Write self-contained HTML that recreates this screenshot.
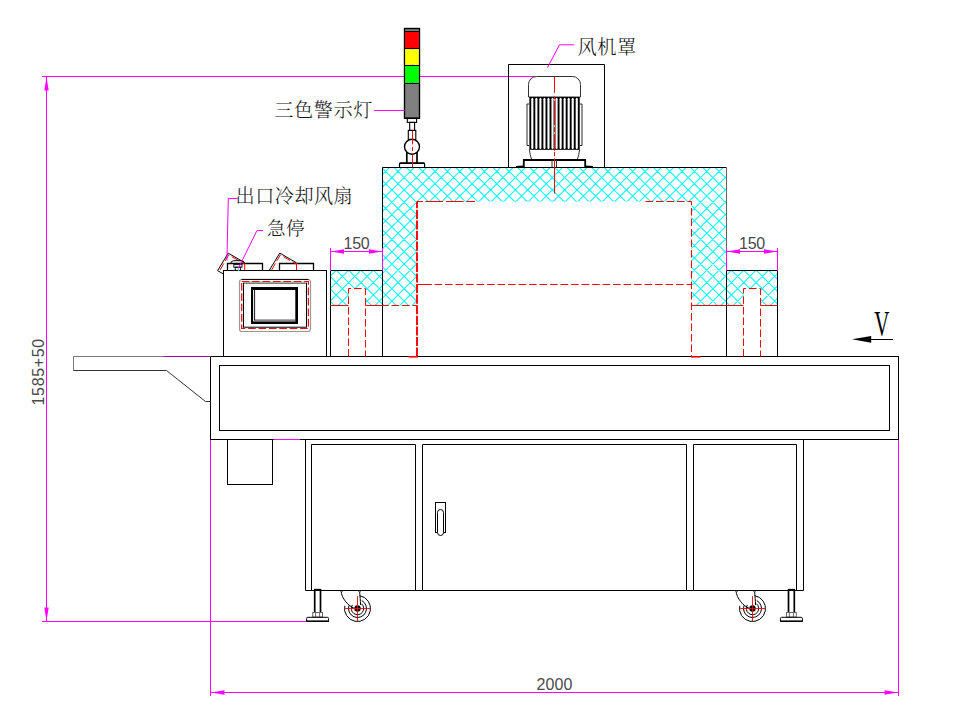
<!DOCTYPE html>
<html lang="zh"><head><meta charset="utf-8"><title>设备外形图</title>
<style>html,body{margin:0;padding:0;background:#fff;}body{width:954px;height:718px;overflow:hidden;}svg{display:block;}</style>
</head><body>
<svg width="954" height="718" viewBox="0 0 954 718" fill="none">
<defs><clipPath id="hc">
<polygon points="382.5,167.5 726.5,167.5 726.5,305.5 691.5,305.5 691.5,201.5 416.5,201.5 416.5,305.5 382.5,305.5"/>
<polygon points="330.5,270.5 382.5,270.5 382.5,305.5 365.5,305.5 365.5,288.5 348.5,288.5 348.5,305.5 330.5,305.5"/>
<polygon points="726.5,270.5 777.5,270.5 777.5,305.5 760.5,305.5 760.5,288.5 743.5,288.5 743.5,305.5 726.5,305.5"/>
</clipPath></defs>
<g clip-path="url(#hc)" stroke="#00ffff" stroke-width="1.04" fill="none">
<path d="M176.65 160L326.65 310M189.00 160L339.00 310M201.35 160L351.35 310M213.70 160L363.70 310M226.05 160L376.05 310M238.40 160L388.40 310M250.75 160L400.75 310M263.10 160L413.10 310M275.45 160L425.45 310M287.80 160L437.80 310M300.15 160L450.15 310M312.50 160L462.50 310M324.85 160L474.85 310M337.20 160L487.20 310M349.55 160L499.55 310M361.90 160L511.90 310M374.25 160L524.25 310M386.60 160L536.60 310M398.95 160L548.95 310M411.30 160L561.30 310M423.65 160L573.65 310M436.00 160L586.00 310M448.35 160L598.35 310M460.70 160L610.70 310M473.05 160L623.05 310M485.40 160L635.40 310M497.75 160L647.75 310M510.10 160L660.10 310M522.45 160L672.45 310M534.80 160L684.80 310M547.15 160L697.15 310M559.50 160L709.50 310M571.85 160L721.85 310M584.20 160L734.20 310M596.55 160L746.55 310M608.90 160L758.90 310M621.25 160L771.25 310M633.60 160L783.60 310M645.95 160L795.95 310M658.30 160L808.30 310M670.65 160L820.65 310M683.00 160L833.00 310M695.35 160L845.35 310M707.70 160L857.70 310M720.05 160L870.05 310M732.40 160L882.40 310M744.75 160L894.75 310M757.10 160L907.10 310M769.45 160L919.45 310M781.80 160L931.80 310M335.30 160L185.30 310M347.65 160L197.65 310M360.00 160L210.00 310M372.35 160L222.35 310M384.70 160L234.70 310M397.05 160L247.05 310M409.40 160L259.40 310M421.75 160L271.75 310M434.10 160L284.10 310M446.45 160L296.45 310M458.80 160L308.80 310M471.15 160L321.15 310M483.50 160L333.50 310M495.85 160L345.85 310M508.20 160L358.20 310M520.55 160L370.55 310M532.90 160L382.90 310M545.25 160L395.25 310M557.60 160L407.60 310M569.95 160L419.95 310M582.30 160L432.30 310M594.65 160L444.65 310M607.00 160L457.00 310M619.35 160L469.35 310M631.70 160L481.70 310M644.05 160L494.05 310M656.40 160L506.40 310M668.75 160L518.75 310M681.10 160L531.10 310M693.45 160L543.45 310M705.80 160L555.80 310M718.15 160L568.15 310M730.50 160L580.50 310M742.85 160L592.85 310M755.20 160L605.20 310M767.55 160L617.55 310M779.90 160L629.90 310M792.25 160L642.25 310M804.60 160L654.60 310M816.95 160L666.95 310M829.30 160L679.30 310M841.65 160L691.65 310M854.00 160L704.00 310M866.35 160L716.35 310M878.70 160L728.70 310M891.05 160L741.05 310M903.40 160L753.40 310M915.75 160L765.75 310M928.10 160L778.10 310"/>
</g>
<line x1="42" y1="76.5" x2="535.5" y2="76.5" stroke="#ff00ff" stroke-width="1" />
<line x1="46.5" y1="76.5" x2="46.5" y2="621.5" stroke="#ff00ff" stroke-width="1" />
<line x1="42" y1="621.5" x2="307" y2="621.5" stroke="#ff00ff" stroke-width="1" />
<polygon points="46.5,77 44.3,90.5 48.7,90.5" fill="#ff00ff"/>
<polygon points="46.5,621 44.3,607.5 48.7,607.5" fill="#ff00ff"/>
<line x1="210.5" y1="439.5" x2="210.5" y2="696" stroke="#ff00ff" stroke-width="1" />
<line x1="898.5" y1="439.5" x2="898.5" y2="696" stroke="#ff00ff" stroke-width="1" />
<line x1="210.5" y1="692.5" x2="898.5" y2="692.5" stroke="#ff00ff" stroke-width="1" />
<polygon points="211,692.5 224.5,690.3 224.5,694.7" fill="#ff00ff"/>
<polygon points="898,692.5 884.5,690.3 884.5,694.7" fill="#ff00ff"/>
<rect x="210.5" y="356.5" width="688.0" height="83.0" stroke="#000" stroke-width="1" fill="none" />
<rect x="219.5" y="365.5" width="670.0" height="65.0" stroke="#000" stroke-width="1" fill="none" />
<line x1="273.5" y1="439.5" x2="300" y2="439.5" stroke="#ff00ff" stroke-width="1" />
<path d="M210.5 356.5H73.5V370.5" stroke="#777" stroke-width="1" fill="none" />
<path d="M73.5 370.5H166.5L205.5 401.5H210.5" stroke="#333" stroke-width="1" fill="none" />
<line x1="164" y1="356.5" x2="210" y2="356.5" stroke="#a000a0" stroke-width="1" />
<rect x="227.5" y="439.5" width="45.0" height="45.0" stroke="#000" stroke-width="1" fill="none" />
<path d="M305.5 439.5V590.5H803.5V439.5" stroke="#000" stroke-width="1" fill="none" />
<path d="M311.5 590.5V444.5H415.5V590.5" stroke="#000" stroke-width="1" fill="none" />
<path d="M422.5 590.5V444.5H686.5V590.5" stroke="#000" stroke-width="1" fill="none" />
<path d="M693.5 590.5V444.5H796.5V590.5" stroke="#000" stroke-width="1" fill="none" />
<rect x="435.5" y="502.5" width="10.0" height="30.0" stroke="#000" stroke-width="1" fill="none" />
<rect x="437.5" y="509.5" width="6" height="26" rx="3" ry="3" fill="#fff" stroke="#000" stroke-width="1"/>
<line x1="314.70000000000005" y1="589.5" x2="314.70000000000005" y2="612.5" stroke="#000" stroke-width="1.7" />
<line x1="320.5" y1="589.5" x2="320.5" y2="612.5" stroke="#000" stroke-width="1.7" />
<line x1="314.0" y1="589.6" x2="321.20000000000005" y2="589.6" stroke="#000" stroke-width="1.5" />
<rect x="312.70000000000005" y="612.5" width="9.8" height="4.5" stroke="#666" stroke-width="1" fill="none" />
<line x1="315.6" y1="612.5" x2="315.6" y2="617" stroke="#666" stroke-width="1" />
<line x1="319.6" y1="612.5" x2="319.6" y2="617" stroke="#666" stroke-width="1" />
<path d="M306.6 621.2V618.5Q306.6 617.3 307.8 617.3H327.40000000000003Q328.6 617.3 328.6 618.5V621.2" stroke="#000" stroke-width="1" fill="none" />
<line x1="306.3" y1="621.2" x2="328.90000000000003" y2="621.2" stroke="#000" stroke-width="1.6" />
<line x1="788.5" y1="589.5" x2="788.5" y2="612.5" stroke="#000" stroke-width="1.7" />
<line x1="794.3" y1="589.5" x2="794.3" y2="612.5" stroke="#000" stroke-width="1.7" />
<line x1="787.8" y1="589.6" x2="795.0" y2="589.6" stroke="#000" stroke-width="1.5" />
<rect x="786.5" y="612.5" width="9.8" height="4.5" stroke="#666" stroke-width="1" fill="none" />
<line x1="789.4" y1="612.5" x2="789.4" y2="617" stroke="#666" stroke-width="1" />
<line x1="793.4" y1="612.5" x2="793.4" y2="617" stroke="#666" stroke-width="1" />
<path d="M780.4 621.2V618.5Q780.4 617.3 781.6 617.3H801.1999999999999Q802.4 617.3 802.4 618.5V621.2" stroke="#000" stroke-width="1" fill="none" />
<line x1="780.1" y1="621.2" x2="802.6999999999999" y2="621.2" stroke="#000" stroke-width="1.6" />
<g transform="translate(357.5,608.5) scale(1,1)">
<path d="M2.26 -12.80A13 13 0 1 1 -12.72 -2.70" stroke="#000" stroke-width="1" fill="none"/>
<path d="M4.23 -7.95A9 9 0 1 1 -8.46 -3.08" stroke="#000" stroke-width="1" fill="none"/>
<path d="M3.99 -4.75A6.2 6.2 0 1 1 -5.08 -3.56" stroke="#000" stroke-width="1" fill="none"/>
<circle cx="0" cy="0" r="3.2" fill="#000"/>
<path d="M-16.5 -17.8C-16 -10 -9 -2.5 -3.5 -0.3" stroke="#000" stroke-width="1" fill="none" />
<path d="M2.1 -17.8C2.4 -12 3 -8 3 -3.5" stroke="#000" stroke-width="1" fill="none" />
<line x1="-17.5" y1="-17" x2="-14.5" y2="-17" stroke="#888" stroke-width="1" />
<line x1="0.5" y1="-17" x2="3.5" y2="-17" stroke="#888" stroke-width="1" />
<line x1="-12.2" y1="0" x2="12.6" y2="0" stroke="#ff0000" stroke-width="0.9" />
<line x1="0" y1="-12.4" x2="0" y2="12.6" stroke="#ff0000" stroke-width="0.9" />
</g>
<g transform="translate(752.5,608.5) scale(1,1)">
<path d="M2.26 -12.80A13 13 0 1 1 -12.72 -2.70" stroke="#000" stroke-width="1" fill="none"/>
<path d="M4.23 -7.95A9 9 0 1 1 -8.46 -3.08" stroke="#000" stroke-width="1" fill="none"/>
<path d="M3.99 -4.75A6.2 6.2 0 1 1 -5.08 -3.56" stroke="#000" stroke-width="1" fill="none"/>
<circle cx="0" cy="0" r="3.2" fill="#000"/>
<path d="M-16.5 -17.8C-16 -10 -9 -2.5 -3.5 -0.3" stroke="#000" stroke-width="1" fill="none" />
<path d="M2.1 -17.8C2.4 -12 3 -8 3 -3.5" stroke="#000" stroke-width="1" fill="none" />
<line x1="-17.5" y1="-17" x2="-14.5" y2="-17" stroke="#888" stroke-width="1" />
<line x1="0.5" y1="-17" x2="3.5" y2="-17" stroke="#888" stroke-width="1" />
<line x1="-12.2" y1="0" x2="12.6" y2="0" stroke="#ff0000" stroke-width="0.9" />
<line x1="0" y1="-12.4" x2="0" y2="12.6" stroke="#ff0000" stroke-width="0.9" />
</g>
<path d="M382.5 356.5V167.5H726.5" stroke="#000" stroke-width="1" fill="none" />
<line x1="726.5" y1="167.5" x2="726.5" y2="248" stroke="#666" stroke-width="1" />
<line x1="726.5" y1="270.5" x2="726.5" y2="356.5" stroke="#000" stroke-width="1" />
<path d="M330.5 356.5V270.5H382.5" stroke="#000" stroke-width="1" fill="none" />
<path d="M726.5 270.5H777.5V356.5" stroke="#000" stroke-width="1" fill="none" />
<rect x="223.5" y="270.5" width="103.0" height="86.0" stroke="#000" stroke-width="1" fill="none" />
<line x1="330.5" y1="248" x2="330.5" y2="270.5" stroke="#ff00ff" stroke-width="1" />
<line x1="382.5" y1="248" x2="382.5" y2="270.5" stroke="#ff00ff" stroke-width="1" />
<line x1="330.5" y1="251.5" x2="382.5" y2="251.5" stroke="#ff00ff" stroke-width="1" />
<polygon points="331.0,251.5 344.0,249.3 344.0,253.7" fill="#ff00ff"/>
<polygon points="382.0,251.5 369.0,249.3 369.0,253.7" fill="#ff00ff"/>
<line x1="726.5" y1="248" x2="726.5" y2="270.5" stroke="#ff00ff" stroke-width="1" />
<line x1="777.5" y1="248" x2="777.5" y2="270.5" stroke="#ff00ff" stroke-width="1" />
<line x1="726.5" y1="251.5" x2="777.5" y2="251.5" stroke="#ff00ff" stroke-width="1" />
<polygon points="727.0,251.5 740.0,249.3 740.0,253.7" fill="#ff00ff"/>
<polygon points="777.0,251.5 764.0,249.3 764.0,253.7" fill="#ff00ff"/>
<line x1="330.5" y1="305.5" x2="348.5" y2="305.5" stroke="#ff0000" stroke-width="1" />
<line x1="365.5" y1="305.5" x2="382.5" y2="305.5" stroke="#ff0000" stroke-width="1" />
<line x1="691.5" y1="305.5" x2="743.5" y2="305.5" stroke="#ff0000" stroke-width="1" />
<line x1="760.5" y1="305.5" x2="777.5" y2="305.5" stroke="#ff0000" stroke-width="1" />
<line x1="382.5" y1="305.5" x2="416.5" y2="305.5" stroke="#ff0000" stroke-width="1" stroke-dasharray="7.6 2.9" stroke-dashoffset="1.5"/>
<path d="M348.5 356.5V288.5H365.5V356.5" stroke="#ff0000" stroke-width="1" fill="none" stroke-dasharray="7.6 2.9"/>
<path d="M743.5 356.5V288.5H760.5V356.5" stroke="#ff0000" stroke-width="1" fill="none" stroke-dasharray="7.6 2.9"/>
<line x1="416.9" y1="201.5" x2="475" y2="201.5" stroke="#ff0000" stroke-width="1" stroke-dasharray="6 2.5 17.6 3 17.6 2.6 9 50"/>
<line x1="417" y1="201.5" x2="417" y2="356.5" stroke="#ff0000" stroke-width="1.9" stroke-dasharray="9.1 1.5" stroke-dashoffset="2.3"/>
<path d="M645.5 201.5H691.5V356.5" stroke="#ff0000" stroke-width="1" fill="none" stroke-dasharray="7.6 2.9"/>
<line x1="416.5" y1="284.5" x2="431.8" y2="284.5" stroke="#ff0000" stroke-width="1" />
<line x1="434.6" y1="284.5" x2="691.5" y2="284.5" stroke="#ff0000" stroke-width="1" stroke-dasharray="7.6 2.9"/>
<line x1="408.5" y1="356.8" x2="417.8" y2="356.8" stroke="#ff0000" stroke-width="1.6" />
<line x1="691" y1="356.8" x2="700.5" y2="356.8" stroke="#ff0000" stroke-width="1.6" />
<path d="M508.5 167.5V64.5H604.5V167.5" stroke="#000" stroke-width="1" fill="none" />
<path d="M528.5 97V84.5A8 8 0 0 1 536.5 76.5H572.5A8 8 0 0 1 580.5 84.5V97Z" stroke="#333" stroke-width="1" fill="none" />
<rect x="529.35" y="97" width="50.4" height="52.8" fill="#000"/>
<rect x="531.25" y="97.8" width="2.14" height="51.3" rx="1.07" ry="1.5" fill="#fff"/>
<rect x="535.29" y="97.8" width="2.14" height="51.3" rx="1.07" ry="1.5" fill="#fff"/>
<rect x="539.33" y="97.8" width="2.14" height="51.3" rx="1.07" ry="1.5" fill="#fff"/>
<rect x="543.37" y="97.8" width="2.14" height="51.3" rx="1.07" ry="1.5" fill="#fff"/>
<rect x="547.41" y="97.8" width="2.14" height="51.3" rx="1.07" ry="1.5" fill="#fff"/>
<rect x="551.45" y="97.8" width="2.14" height="51.3" rx="1.07" ry="1.5" fill="#fff"/>
<rect x="555.49" y="97.8" width="2.14" height="51.3" rx="1.07" ry="1.5" fill="#fff"/>
<rect x="559.53" y="97.8" width="2.14" height="51.3" rx="1.07" ry="1.5" fill="#fff"/>
<rect x="563.57" y="97.8" width="2.14" height="51.3" rx="1.07" ry="1.5" fill="#fff"/>
<rect x="567.61" y="97.8" width="2.14" height="51.3" rx="1.07" ry="1.5" fill="#fff"/>
<rect x="571.65" y="97.8" width="2.14" height="51.3" rx="1.07" ry="1.5" fill="#fff"/>
<rect x="575.69" y="97.8" width="2.14" height="51.3" rx="1.07" ry="1.5" fill="#fff"/>
<path d="M529 104H527V145.5H529" stroke="#111" stroke-width="0.9" fill="none" />
<path d="M580 104H582V145.5H580" stroke="#111" stroke-width="0.9" fill="none" />
<path d="M529.4 149.5Q530 155 531.5 159" stroke="#333" stroke-width="1" fill="none" />
<path d="M579.6 149.5Q579 155 577.5 159" stroke="#333" stroke-width="1" fill="none" />
<path d="M523.8 167V160H585.2V167" stroke="#000" stroke-width="1.8" fill="none" />
<line x1="552" y1="160" x2="552" y2="167" stroke="#333" stroke-width="1" />
<line x1="556.5" y1="160" x2="556.5" y2="167" stroke="#333" stroke-width="1" />
<line x1="516" y1="166.6" x2="524" y2="166.2" stroke="#000" stroke-width="1.4" />
<line x1="585" y1="166.2" x2="593" y2="166.6" stroke="#000" stroke-width="1.4" />
<line x1="554.5" y1="76.5" x2="554.5" y2="193.5" stroke="#ff0000" stroke-width="1" stroke-dasharray="16.3 3.5 29 1.5 5.5 1.5 17 1.2 4.2 2.2 40"/>
<rect x="554" y="125.4" width="1" height="1.4" fill="#fff"/><rect x="554" y="132.4" width="1" height="1.4" fill="#fff"/><rect x="554" y="99.5" width="1" height="1.2" fill="#fff"/>
<rect x="404.5" y="28.5" width="15.0" height="89.7" stroke="#000" stroke-width="1.2" fill="#808080" />
<rect x="405" y="31.5" width="14" height="17" fill="#ff0000"/>
<rect x="405" y="48.5" width="14" height="17" fill="#ffff00"/>
<rect x="405" y="65.5" width="14" height="18" fill="#00ff00"/>
<line x1="405" y1="31.5" x2="419" y2="31.5" stroke="#000" stroke-width="1" />
<line x1="405" y1="48.5" x2="419" y2="48.5" stroke="#000" stroke-width="1" />
<line x1="405" y1="65.5" x2="419" y2="65.5" stroke="#000" stroke-width="1" />
<line x1="405" y1="83.5" x2="419" y2="83.5" stroke="#000" stroke-width="1" />
<rect x="411.9" y="47.7" width="1.2" height="1.6" fill="#0000ff"/>
<rect x="411.9" y="64.7" width="1.2" height="1.6" fill="#0000ff"/>
<rect x="411.9" y="82.5" width="1.2" height="1.6" fill="#0000ff"/>
<rect x="404.5" y="28.5" width="15.0" height="89.7" stroke="#000" stroke-width="1.2" fill="none" />
<rect x="407.3" y="118.5" width="9.3" height="3.9" stroke="#000" stroke-width="1.1" fill="#fff" />
<rect x="409.7" y="122.4" width="4.9" height="8.0" stroke="#000" stroke-width="1.1" fill="#fff" />
<rect x="408.3" y="130.4" width="7.5" height="10.6" stroke="#000" stroke-width="1.1" fill="#fff" />
<line x1="406.8" y1="152" x2="406.8" y2="163" stroke="#000" stroke-width="1.7" />
<line x1="417" y1="152" x2="417" y2="163" stroke="#000" stroke-width="1.7" />
<circle cx="412" cy="146.8" r="7.5" fill="#fff" stroke="#000" stroke-width="1.4"/>
<path d="M399.5 167V164.3Q399.5 163.1 400.7 163.1H423.3Q424.6 163.1 424.6 164.3V167" stroke="#000" stroke-width="1.2" fill="#fff" />
<line x1="399.5" y1="163.2" x2="424.6" y2="163.2" stroke="#000" stroke-width="1.6" />
<line x1="412.5" y1="130.8" x2="412.5" y2="167" stroke="#ff0000" stroke-width="1" stroke-dasharray="13.6 2.6 4.2 3.6 20"/>
<line x1="374" y1="110.5" x2="404.5" y2="110.5" stroke="#ff00ff" stroke-width="1" />
<path d="M227.5 270.5V263.5H262.5V270.5" stroke="#000" stroke-width="1.3" fill="none" />
<path d="M279.5 270.5V263.5H313.5V270.5" stroke="#000" stroke-width="1.3" fill="none" />
<path d="M223.5 274L217.6 270.7L228.2 253.1L244.5 262.6" stroke="#000" stroke-width="1" fill="none" />
<path d="M220 270L228.7 254.9L244.7 264.1" stroke="#ff0000" stroke-width="1" fill="none" stroke-dasharray="7.6 2.9"/>
<line x1="244.7" y1="263" x2="244.7" y2="270" stroke="#ff0000" stroke-width="1" />
<path d="M269.4 270.1L279.8 253.1L296.5 262.8" stroke="#000" stroke-width="1" fill="none" />
<path d="M271.6 270L280.3 254.9L296.5 264.3" stroke="#ff0000" stroke-width="1" fill="none" stroke-dasharray="7.6 2.9"/>
<line x1="296.5" y1="263" x2="296.5" y2="270" stroke="#ff0000" stroke-width="1" />
<path d="M230.7 263.5Q231 260.7 233.8 260.7H241.4Q244.2 260.7 244.5 263.5" stroke="#000" stroke-width="1" fill="none" />
<rect x="233.8" y="264.6" width="8.2" height="2.6" stroke="#000" stroke-width="0.9" fill="none" />
<rect x="235.2" y="267.2" width="5.4" height="3.1" stroke="#000" stroke-width="0.9" fill="none" />
<path d="M237.5 198.5H228.3L226.9 260.3" stroke="#ff00ff" stroke-width="1" fill="none" />
<path d="M263 230.5H257L238.2 268.6" stroke="#ff00ff" stroke-width="1" fill="none" />
<rect x="237.8" y="269.3" width="1.4" height="1.6" fill="#00ffff"/>
<rect x="239.5" y="279.5" width="71" height="52" rx="2.5" fill="none" stroke="#999" stroke-width="1.2"/>
<line x1="241.5" y1="279.4" x2="308.5" y2="279.4" stroke="#000" stroke-width="1" />
<rect x="243.5" y="283" width="63.0" height="44.2" stroke="#000" stroke-width="1" fill="none" />
<line x1="243" y1="282.3" x2="307" y2="282.3" stroke="#aaa" stroke-width="1.4" />
<rect x="241.7" y="281.5" width="66.7" height="47.0" stroke="#ff0000" stroke-width="1.2" fill="none" stroke-dasharray="7.6 2.8"/>
<rect x="251" y="287" width="47" height="37" fill="#000"/>
<rect x="253.1" y="290" width="42.2" height="31.4" fill="#fff"/>
<line x1="254.6" y1="290" x2="254.6" y2="320.4" stroke="#000" stroke-width="0.9" />
<line x1="254.2" y1="320.1" x2="295.3" y2="320.1" stroke="#000" stroke-width="0.8" />
<path d="M547.5 67.5L559.5 44.8H574" stroke="#ff00ff" stroke-width="1" fill="none" />
<line x1="860" y1="339.5" x2="893" y2="339.5" stroke="#000" stroke-width="1" />
<polygon points="852,339.3 871.2,336 871.2,342.7" fill="#000"/>
<text x="274.2" y="116.8" font-size="19.2" font-family="'Liberation Serif','Noto Serif CJK SC',serif" font-weight="300" fill="#111" letter-spacing="0.6">三色警示灯</text>
<text x="577.5" y="53.6" font-size="19.2" font-family="'Liberation Serif','Noto Serif CJK SC',serif" font-weight="300" fill="#111" letter-spacing="0.6">风机罩</text>
<text x="235.6" y="202.5" font-size="19.1" font-family="'Liberation Serif','Noto Serif CJK SC',serif" font-weight="300" fill="#111" letter-spacing="0.5">出口冷却风扇</text>
<text x="267" y="234.7" font-size="18.6" font-family="'Liberation Serif','Noto Serif CJK SC',serif" font-weight="300" fill="#111" letter-spacing="0.5">急停</text>
<text x="356.5" y="248.8" font-size="16" font-family="'Liberation Sans',sans-serif" fill="#4a4a4a" text-anchor="middle" letter-spacing="-0.2">150</text>
<text x="752" y="248.8" font-size="16" font-family="'Liberation Sans',sans-serif" fill="#4a4a4a" text-anchor="middle" letter-spacing="-0.2">150</text>
<text x="554.4" y="690" font-size="16" font-family="'Liberation Sans',sans-serif" fill="#4a4a4a" text-anchor="middle" letter-spacing="0.1">2000</text>
<text transform="translate(44,371.8) rotate(-90)" font-size="16" font-family="'Liberation Sans',sans-serif" fill="#4a4a4a" text-anchor="middle" letter-spacing="0.65">1585+50</text>
<text transform="translate(881.8,336) scale(0.6,1)" font-size="35" font-family="'Liberation Serif',serif" fill="#000" text-anchor="middle">V</text>
</svg>
</body></html>
